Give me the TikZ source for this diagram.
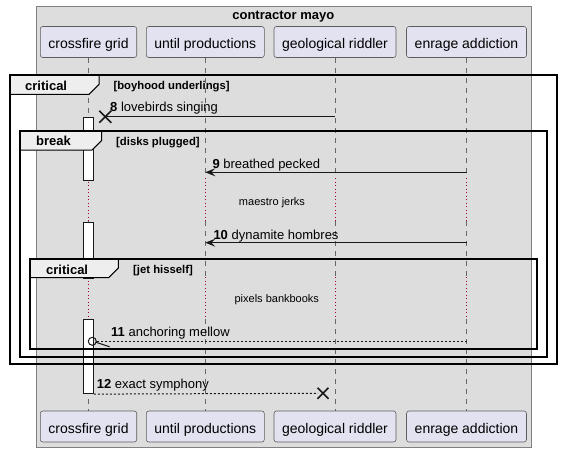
\documentclass[tikz,border=0pt]{standalone}
\usepackage{fontspec}
\setmainfont{Liberation Sans}
\usetikzlibrary{arrows.meta}
\definecolor{partfill}{HTML}{E2E2F0}
\definecolor{boxfill}{HTML}{DDDDDD}
\definecolor{tabfill}{HTML}{EEEEEE}
\definecolor{delayred}{HTML}{A80036}
\definecolor{ink}{HTML}{181818}
\begin{document}
\begin{tikzpicture}[x=1pt,y=-1pt,
 part/.style={draw=ink!70, line width=0.6pt, fill=partfill, rounded corners=2.5pt, minimum height=31pt, inner sep=0pt, text height=13pt, text depth=0pt, font=\fontsize{14}{16}\selectfont},
 lifeline/.style={draw=black!60, line width=0.7pt, dash pattern=on 5pt off 5pt},
 delayline/.style={draw=delayred, line width=0.8pt, dash pattern=on 1pt off 2.5pt},
 actbar/.style={draw=ink, fill=white, line width=0.8pt, minimum width=10pt, inner sep=0pt},
 msgline/.style={draw=ink, line width=1pt},
 msgdash/.style={draw=ink, line width=1pt, dash pattern=on 2pt off 2pt},
 msglabel/.style={anchor=base west, inner sep=0pt, font=\fontsize{13}{15}\selectfont},
 framebox/.style={draw=black, line width=1.7pt},
 tabshape/.style={draw=black, fill=tabfill, line width=1pt},
 tabtitle/.style={anchor=base west, inner sep=0pt, font=\bfseries\fontsize{13}{15}\selectfont},
 guard/.style={anchor=base west, inner sep=0pt, font=\bfseries\fontsize{11.3}{13}\selectfont},
 delaytext/.style={inner sep=0pt, font=\fontsize{11}{13}\selectfont},
 destroy/.style={draw=ink, line width=1.6pt},
 arr/.style={-{Stealth[length=10pt,width=8pt,inset=4pt]}},
]
\useasboundingbox (0,0) rectangle (561,452);
% group box
\node[draw=black!50, fill=boxfill, line width=0.6pt, minimum width=494.7pt, minimum height=441.3pt, anchor=north west, inner sep=0pt] (grp) at (36,6) {};
\node[font=\bfseries\fontsize{13}{15}\selectfont, anchor=base, inner sep=0pt] (title) at (283.3,19.7) {contractor mayo};
% participants
\node[part, minimum width=96.4pt] (t1) at (88.5,42) {crossfire grid};
\node[part, minimum width=118pt] (t2) at (205.3,42) {until productions};
\node[part, minimum width=122pt] (t3) at (335,42) {geological riddler};
\node[part, minimum width=120pt] (t4) at (466.5,42) {enrage addiction};
\node[part, minimum width=96.4pt] (b1) at (88.5,426.5) {crossfire grid};
\node[part, minimum width=118pt] (b2) at (205.3,426.5) {until productions};
\node[part, minimum width=122pt] (b3) at (335,426.5) {geological riddler};
\node[part, minimum width=120pt] (b4) at (466.5,426.5) {enrage addiction};
% lifelines
\foreach \p in {1,2,3,4}{
  \draw[lifeline] (t\p.south) -- (t\p.south |- 0,178);
  \draw[delayline] (t\p.south |- 0,178) -- (t\p.south |- 0,221);
  \draw[lifeline] (t\p.south |- 0,221) -- (t\p.south |- 0,277);
  \draw[delayline] (t\p.south |- 0,277) -- (t\p.south |- 0,319);
  \draw[lifeline] (t\p.south |- 0,319) -- (b\p.north);
}
% activation bars
\node[actbar, minimum height=63.3pt, anchor=north] (a1) at (t1.south |- 0,116.7) {};
\node[actbar, minimum height=56pt, anchor=north] (a2) at (t1.south |- 0,222) {};
\node[actbar, minimum height=74.3pt, anchor=north] (a3) at (t1.south |- 0,319) {};
% message 8
\coordinate (m8a) at (t3.south |- 0,116.7);
\coordinate (x8) at (105.3,116.7);
\draw[msgline] (m8a) -- (x8);
\draw[destroy] ([shift={(-6,-6)}]x8) -- ([shift={(6,6)}]x8);
\draw[destroy] ([shift={(-6,6)}]x8) -- ([shift={(6,-6)}]x8);
\node[msglabel] (l8) at (110,111.7) {\textbf{8} lovebirds singing};
% message 9
\draw[msgline, arr] (t4.south |- 0,172.3) -- (t2.south |- 0,172.3);
\node[msglabel] (l9) at (212.3,168) {\textbf{9} breathed pecked};
% message 10
\draw[msgline, arr] (t4.south |- 0,242.7) -- (t2.south |- 0,242.7);
\node[msglabel] (l10) at (213.3,239.3) {\textbf{10} dynamite hombres};
% message 11
\coordinate (c11) at (92.3,341.3);
\draw[msgdash] (t4.south |- 0,341.3) -- ([xshift=4pt]c11);
\draw[draw=ink, line width=1pt] (c11) circle[radius=4pt];
\draw[msgline] ([shift={(3.8,1)}]c11) -- ++(13.5,4.5);
\node[msglabel] (l11) at (111,336.7) {\textbf{11} anchoring mellow};
% message 12
\coordinate (x12) at (323,393.3);
\draw[msgdash] (a3.south east) -- ([xshift=-5pt]x12);
\draw[destroy] ([shift={(-5.5,-5.5)}]x12) -- ([shift={(5.5,5.5)}]x12);
\draw[destroy] ([shift={(-5.5,5.5)}]x12) -- ([shift={(5.5,-5.5)}]x12);
\node[msglabel] (l12) at (96.7,388.3) {\textbf{12} exact symphony};
% delays
\node[delaytext] (d1) at (272,202.3) {maestro jerks};
\node[delaytext] (d2) at (276.8,299.3) {pixels bankbooks};
% outer critical
\draw[tabshape] (10,75.3) -- (99,75.3) -- (99,84.3) -- (89,94.3) -- (10,94.3) -- cycle;
\draw[framebox] (10,75.3) rectangle (556.7,364.3);
\node[tabtitle] (f1) at (25,90) {critical};
\node[guard] (g1) at (113.3,89.3) {[boyhood underlings]};
% break
\draw[tabshape] (20,131) -- (101.7,131) -- (101.7,140.5) -- (92,150) -- (20,150) -- cycle;
\draw[framebox] (20,131) rectangle (546.7,357.3);
\node[tabtitle] (f2) at (36,145.7) {break};
\node[guard] (g2) at (116,145.3) {[disks plugged]};
% inner critical
\draw[tabshape] (30,259.3) -- (118.3,259.3) -- (118.3,268) -- (108.7,277.7) -- (30,277.7) -- cycle;
\draw[framebox] (30,259.3) rectangle (536.7,349.3);
\node[tabtitle] (f3) at (46,274) {critical};
\node[guard] (g3) at (133,273.5) {[jet hisself]};
\end{tikzpicture}
\end{document}
